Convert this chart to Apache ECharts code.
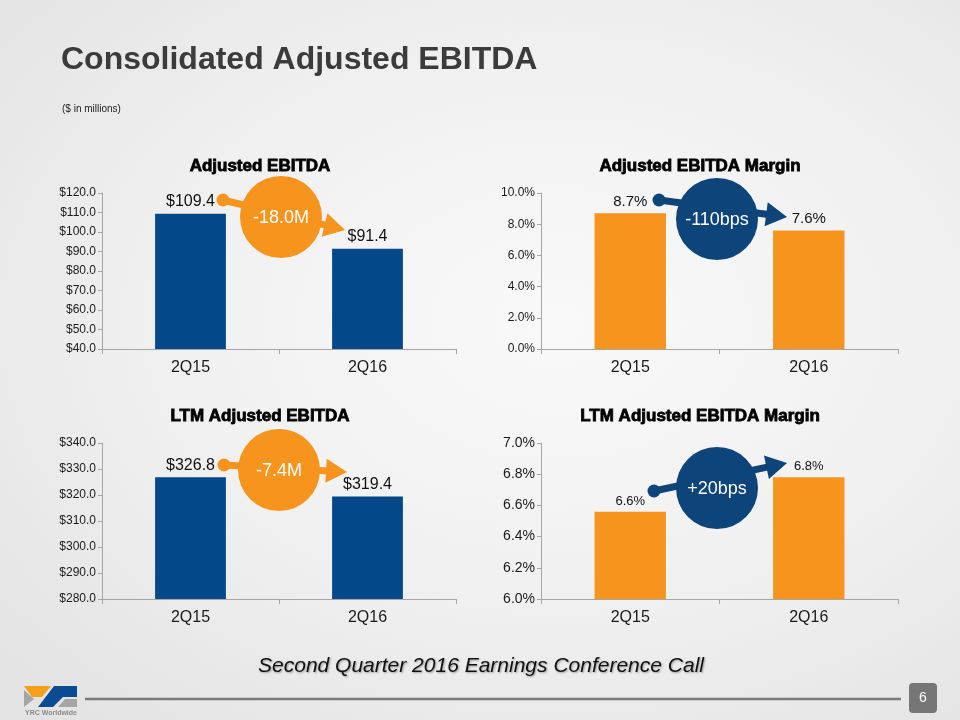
<!DOCTYPE html>
<html>
<head>
<meta charset="utf-8">
<script src="https://cdn.jsdelivr.net/npm/echarts@6/dist/echarts.min.js"></script>
<style>
html,body{margin:0;padding:0;}
#wrap{width:960px;height:720px;background:radial-gradient(ellipse 75% 70% at 58% 45%, #f9f9f9 0%, #f0f0f0 55%, #e4e4e4 100%);}
#chart{width:960px;height:720px;}
</style>
</head>
<body>
<div id="wrap"><div id="chart"></div></div>
<script>
// ---- Data ----
const categories = ['2Q15', '2Q16'];
const adjEbitda = [109.4, 91.4];          // $ millions
const adjEbitdaMargin = [8.7, 7.6];       // %
const ltmAdjEbitda = [326.8, 319.4];      // $ millions
const ltmAdjEbitdaMargin = [6.56, 6.78];  // %
const adjEbitdaAxis = [40, 120, 10];      // min, max, interval
const adjMarginAxis = [0, 10, 2];
const ltmEbitdaAxis = [280, 340, 10];
const ltmMarginAxis = [6.0, 7.0, 0.2];
const changeTexts = ['-18.0M', '-110bps', '-7.4M', '+20bps'];

// ---- Styling ----
const FONT = 'Liberation Sans, Arial, sans-serif';
const BLUE = '#03498A';
const ORANGE = '#F7941E';
const NAVY = '#0D4479';
const AXIS = '#A6A6A6';

const money = v => '$' + Number(v).toFixed(1);
const pct = v => Number(v).toFixed(1) + '%';

const grids = [
  {left: 102, top: 193, width: 354, height: 156},
  {left: 541, top: 193, width: 357, height: 156},
  {left: 102, top: 443, width: 354, height: 156},
  {left: 541, top: 443, width: 357, height: 156}
];
const axes = [adjEbitdaAxis, adjMarginAxis, ltmEbitdaAxis, ltmMarginAxis];
const fmts = [money, pct, money, pct];
const yFont = [12, 12, 12, 14];
const labelFont = [16, 15, 16, 13];
const seriesData = [adjEbitda, adjEbitdaMargin, ltmAdjEbitda, ltmAdjEbitdaMargin];
const barColors = [BLUE, ORANGE, BLUE, ORANGE];

const xAxis = grids.map((g, i) => ({
  type: 'category', gridIndex: i, data: categories,
  axisLine: {lineStyle: {color: AXIS, width: 1}},
  axisTick: {show: true, length: 5, lineStyle: {color: AXIS}},
  axisLabel: {fontSize: 16, color: '#1a1a1a', fontFamily: FONT, margin: 11}
}));
const yAxis = grids.map((g, i) => ({
  type: 'value', gridIndex: i, min: axes[i][0], max: axes[i][1], interval: axes[i][2],
  axisLine: {show: true, lineStyle: {color: AXIS, width: 1}},
  axisTick: {show: true, length: 4, lineStyle: {color: AXIS}},
  splitLine: {show: false},
  axisLabel: {fontSize: yFont[i], color: '#1a1a1a', fontFamily: FONT, margin: 6, formatter: fmts[i]}
}));
const series = grids.map((g, i) => ({
  type: 'bar', xAxisIndex: i, yAxisIndex: i, data: seriesData[i], barWidth: '40%',
  itemStyle: {color: barColors[i]},
  label: {show: true, position: 'top', distance: 4, fontSize: labelFont[i], color: '#111',
          fontFamily: FONT, formatter: p => fmts[i](p.value)}
}));

const chartTitles = [
  {text: 'Adjusted EBITDA', x: 260, y: 166},
  {text: 'Adjusted EBITDA Margin', x: 700, y: 166},
  {text: 'LTM Adjusted EBITDA', x: 260, y: 416},
  {text: 'LTM Adjusted EBITDA Margin', x: 700, y: 416}
];

// annotation layout (decorative callouts)
const callouts = [
  {dot: [223, 200], tip: [345, 230], c: [281, 217], color: ORANGE},
  {dot: [659, 200], tip: [787, 217], c: [717, 219], color: NAVY},
  {dot: [224, 465], tip: [347, 472], c: [279, 470], color: ORANGE},
  {dot: [654, 491], tip: [787, 463], c: [717, 488], color: NAVY}
];

function txt(text, x, y, size, color, extra) {
  return {
    type: 'text', x: x, y: y, z: 20,
    style: Object.assign({text: text, fontSize: size, fontFamily: FONT, fill: color,
      align: 'center', verticalAlign: 'middle', textAlign: 'center', textVerticalAlign: 'middle'}, extra || {})
  };
}

const graphic = [];
chartTitles.forEach(t => {
  graphic.push(txt(t.text, t.x, t.y, 17, '#000', {fontWeight: 'bold', stroke: '#000', lineWidth: 0.8}));
});
callouts.forEach((a, i) => {
  const dx = a.tip[0] - a.dot[0], dy = a.tip[1] - a.dot[1];
  const len = Math.hypot(dx, dy), ux = dx / len, uy = dy / len, nx = -uy, ny = ux;
  const L = 21, W = 12;
  const bx = a.tip[0] - L * ux, by = a.tip[1] - L * uy;
  graphic.push({type: 'line', z: 10, shape: {x1: a.dot[0], y1: a.dot[1], x2: bx + ux * 2, y2: by + uy * 2},
    style: {stroke: a.color, lineWidth: 7}});
  graphic.push({type: 'circle', z: 10, shape: {cx: a.dot[0], cy: a.dot[1], r: 6.5}, style: {fill: a.color}});
  graphic.push({type: 'polygon', z: 10, shape: {points: [a.tip, [bx + W * nx, by + W * ny], [bx - W * nx, by - W * ny]]},
    style: {fill: a.color}});
  graphic.push({type: 'circle', z: 11, shape: {cx: a.c[0], cy: a.c[1], r: 41}, style: {fill: a.color}});
  graphic.push(txt(changeTexts[i], a.c[0], a.c[1] + 1, 18, '#fff'));
});
// footer
graphic.push(txt('Second Quarter 2016 Earnings Conference Call', 481, 666, 21, '#111',
  {fontStyle: 'italic', textShadowColor: 'rgba(0,0,0,0.35)', textShadowBlur: 2, textShadowOffsetX: 1, textShadowOffsetY: 1}));
graphic.push({type: 'line', z: 5, shape: {x1: 85, y1: 699, x2: 901, y2: 699}, style: {stroke: '#7a7a7a', lineWidth: 2.5}});
graphic.push({type: 'rect', z: 5, shape: {x: 909, y: 683, width: 28, height: 30, r: 4}, style: {fill: '#767676'}});
graphic.push(txt('6', 923, 698, 14, '#fff'));
// logo
graphic.push({type: 'polygon', z: 5, shape: {points: [[24, 686], [51, 686], [42, 697], [32, 697]]}, style: {fill: '#F5A01A'}});
graphic.push({type: 'polygon', z: 5, shape: {points: [[24, 690], [34, 699], [24, 707]]}, style: {fill: '#A5A5A5'}});
graphic.push({type: 'polygon', z: 5, shape: {points: [[54, 686], [77, 686], [77, 697], [63, 697], [53, 707], [38, 707]]}, style: {fill: '#0A4C93'}});
graphic.push({type: 'polygon', z: 5, shape: {points: [[65, 699], [77, 699], [77, 707], [58, 707]]}, style: {fill: '#A5A5A5'}});
graphic.push({type: 'text', z: 5, x: 25, y: 710, style: {text: 'YRC Worldwide', fontSize: 7, fontWeight: 'bold', fontFamily: FONT, fill: '#8a8a8a'}});

const option = {
  backgroundColor: 'transparent',
  animation: false,
  textStyle: {fontFamily: FONT},
  title: [
    {text: 'Consolidated Adjusted EBITDA', left: 61, top: 44, padding: 0,
     textStyle: {fontSize: 32, fontWeight: 'bold', color: '#3b3b3b', fontFamily: FONT}},
    {text: '($ in millions)', left: 62, top: 104, padding: 0,
     textStyle: {fontSize: 10, fontWeight: 'normal', color: '#222', fontFamily: FONT}}
  ],
  grid: grids,
  xAxis: xAxis,
  yAxis: yAxis,
  series: series,
  graphic: graphic
};

const chart = echarts.init(document.getElementById('chart'), null, {renderer: 'canvas'});
chart.setOption(option);
</script>
</body>
</html>
